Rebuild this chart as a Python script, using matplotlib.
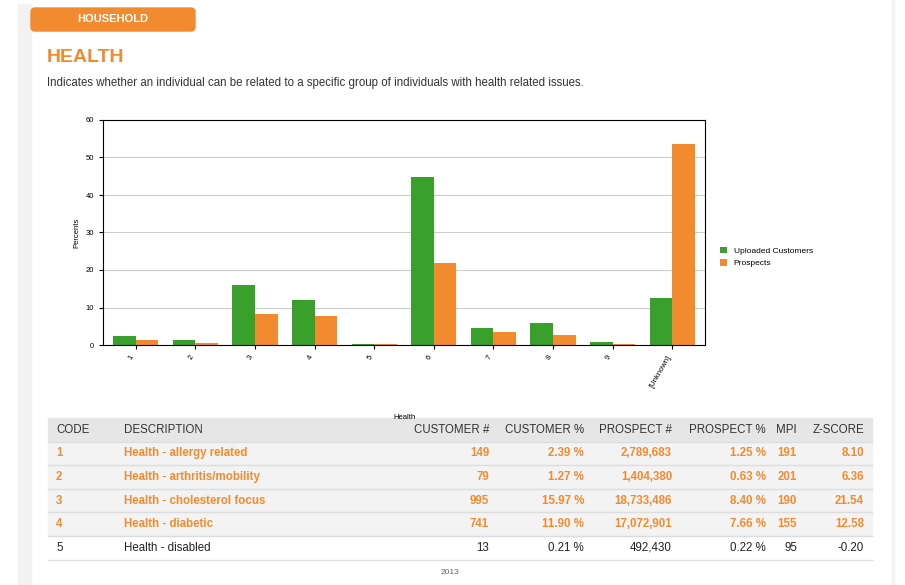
import matplotlib
matplotlib.use("Agg")
import matplotlib.pyplot as plt
from matplotlib.patches import Rectangle, FancyBboxPatch
import numpy as np

plt.rcParams['font.family'] = ['Liberation Sans', 'DejaVu Sans']

categories = ["1", "2", "3", "4", "5", "6", "7", "8", "9", "[Unknown]"]
customers = [2.39, 1.27, 15.97, 11.90, 0.21, 44.8, 4.5, 5.8, 0.7, 12.5]
prospects = [1.25, 0.63, 8.40, 7.66, 0.22, 21.8, 3.4, 2.8, 0.4, 53.5]

header = ["CODE", "DESCRIPTION", "CUSTOMER #", "CUSTOMER %", "PROSPECT #", "PROSPECT %", "MPI", "Z-SCORE"]
rows = [
    ["1", "Health - allergy related", "149", "2.39 %", "2,789,683", "1.25 %", "191", "8.10"],
    ["2", "Health - arthritis/mobility", "79", "1.27 %", "1,404,380", "0.63 %", "201", "6.36"],
    ["3", "Health - cholesterol focus", "995", "15.97 %", "18,733,486", "8.40 %", "190", "21.54"],
    ["4", "Health - diabetic", "741", "11.90 %", "17,072,901", "7.66 %", "155", "12.58"],
    ["5", "Health - disabled", "13", "0.21 %", "492,430", "0.22 %", "95", "-0.20"],
]
highlight = [True, True, True, True, False]

GREEN = "#3aa02c"
ORANGE = "#f28b30"
W, H = 905, 585
fig = plt.figure(figsize=(W/100, H/100), dpi=100)

bg = fig.add_axes([0, 0, 1, 1])
bg.set_xlim(0, W); bg.set_ylim(H, 0); bg.axis('off')
bg.add_patch(Rectangle((18, 4), 13, H, color="#f2f2f2"))
bg.add_patch(Rectangle((892, 0), 2, H, color="#f2f2f2"))
bg.add_patch(FancyBboxPatch((31, 8), 164, 23, boxstyle="round,pad=0,rounding_size=4", color=ORANGE))
bg.text(113, 19.5, "HOUSEHOLD", color="white", fontsize=8, fontweight='bold', ha='center', va='center')
bg.text(47, 58, "HEALTH", color=ORANGE, fontsize=14, fontweight='bold', ha='left', va='center')
bg.text(47, 83, "Indicates whether an individual can be related to a specific group of individuals with health related issues.",
        color="#333333", fontsize=8.3, ha='left', va='center')

# table
x0, x1 = 48, 872
top = 418; rh = 23.6
bg.add_patch(Rectangle((x0, top), x1-x0, rh, color="#e6e6e6"))
colx = [56, 124, 489, 584, 672, 766, 797, 864]
align = ['left', 'left', 'right', 'right', 'right', 'right', 'right', 'right']
for j, h in enumerate(header):
    bg.text(colx[j], top + rh/2, h, fontsize=8.3, color="#333333", ha=align[j], va='center')
for i, r in enumerate(rows):
    y = top + rh*(i+1)
    if highlight[i]:
        bg.add_patch(Rectangle((x0, y), x1-x0, rh, color="#f3f3f3"))
    bg.plot([x0, x1], [y, y], color="#dddddd", lw=1)
    for j, v in enumerate(r):
        bg.text(colx[j], y + rh/2, v, fontsize=8.3, ha=align[j], va='center',
                color=ORANGE if highlight[i] else "#222222",
                fontweight='bold' if highlight[i] else 'normal')
bg.plot([x0, x1], [top + rh*6, top + rh*6], color="#dddddd", lw=1)
bg.text(450, 572, "2013", fontsize=6, color="#666666", ha='center', va='center')

# chart
ax = fig.add_axes([103/W, 1-345/H, (705-103)/W, (345-120)/H])
x = np.arange(len(categories))
bw = 0.38
ax.bar(x - bw/2, customers, bw, color=GREEN, label="Uploaded Customers")
ax.bar(x + bw/2, prospects, bw, color=ORANGE, label="Prospects")
ax.set_xlim(-0.55, len(categories) - 0.45)
ax.set_ylim(0, 60)
ax.set_yticks(range(0, 61, 10))
ax.yaxis.grid(True, color="#cccccc", lw=0.8)
ax.set_axisbelow(True)
ax.set_xticks(x)
ax.set_xticklabels(categories, rotation=60, ha='right', fontsize=5.5)
ax.tick_params(axis='y', labelsize=5.5)
ax.tick_params(length=3)
ax.set_ylabel("Percents", fontsize=5.5)
ax.set_xlabel("Health", fontsize=5.5, labelpad=18)
for s in ax.spines.values():
    s.set_linewidth(0.8)
ax.legend(loc='center left', bbox_to_anchor=(1.02, 0.39), frameon=False, fontsize=6,
          handlelength=0.8, handleheight=0.8, borderaxespad=0)

fig.savefig("out.png", dpi=100)
